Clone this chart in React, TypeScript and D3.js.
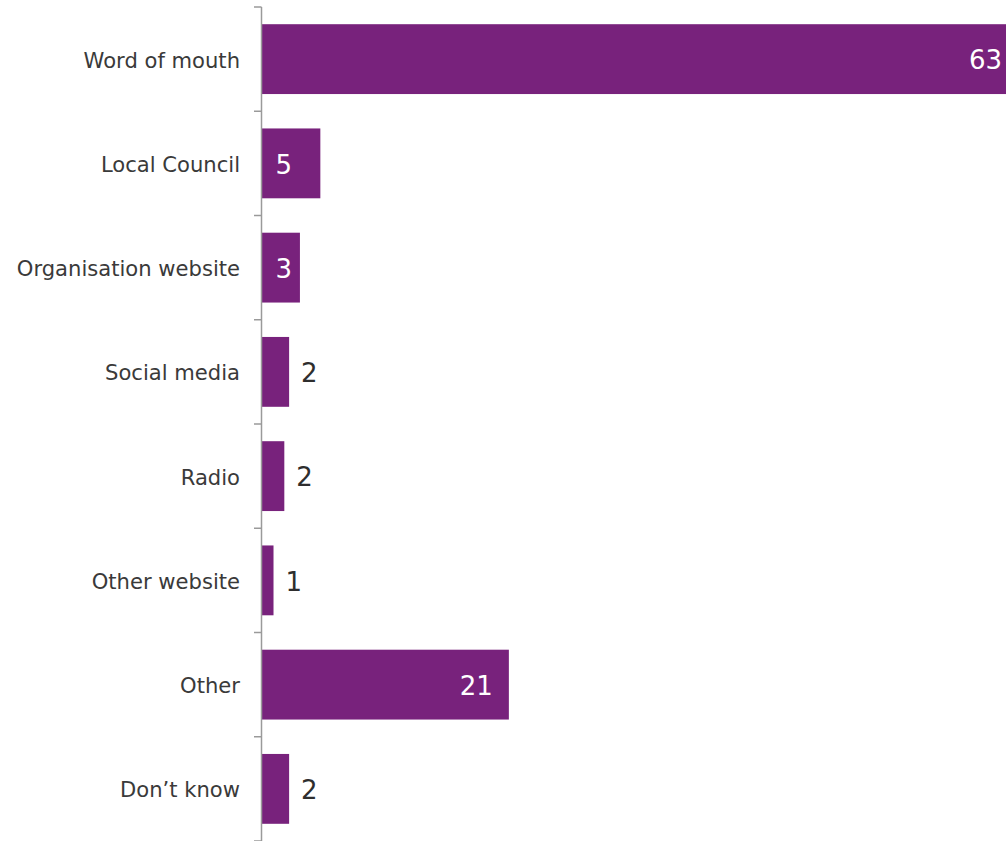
import React from "react";
import * as d3 from "d3";

const categories = [
  "Word of mouth",
  "Local Council",
  "Organisation website",
  "Social media",
  "Radio",
  "Other website",
  "Other",
  "Don’t know",
];
const values = [63, 4.9, 3.2, 2.3, 1.9, 1.0, 20.6, 2.3];
const labels = ["63", "5", "3", "2", "2", "1", "21", "2"];

const W = 1006;
const H = 841;
const AXIS_X = 261.5;
const FONT = "'DejaVu Sans', Verdana, sans-serif";

export default function App() {
  const x = d3.scaleLinear().domain([0, 63]).range([AXIS_X, 1018]);
  const y = d3
    .scaleBand<string>()
    .domain(categories)
    .range([7, 841])
    .paddingInner(0.33)
    .paddingOuter(0.165);
  const step = y.step();
  const ticks = d3.range(categories.length + 1).map((i) => 7 + i * step);

  return (
    <svg
      width={W}
      height={H}
      style={{ position: "absolute", left: 0, top: 0, display: "block", background: "#fff" }}
    >
      {categories.map((c, i) => {
        const v = values[i];
        const y0 = y(c)!;
        const bw = y.bandwidth();
        const xe = x(v);
        const cy = y0 + bw / 2;
        const inside = xe - AXIS_X >= 35;
        let lx = xe + 12;
        let anchor = "start";
        if (inside) {
          const tw = labels[i].length * 0.636 * 26;
          const endX = xe - 16;
          if (endX - tw < AXIS_X + 40) {
            lx = AXIS_X + 14;
            anchor = "start";
          } else {
            lx = endX;
            anchor = "end";
          }
        }
        return (
          <g key={c}>
            <rect x={AXIS_X} y={y0} width={xe - AXIS_X} height={bw} fill="#78227c" />
            <text
              x={240}
              y={cy + 1}
              dy="0.35em"
              textAnchor="end"
              fontFamily={FONT}
              fontSize={21.1}
              fill="#3a3a3a"
            >
              {c}
            </text>
            <text
              x={lx}
              y={cy + 1}
              dy="0.36em"
              textAnchor={anchor}
              fontFamily={FONT}
              fontSize={26}
              fill={inside ? "#ffffff" : "#2e2e2e"}
            >
              {labels[i]}
            </text>
          </g>
        );
      })}
      <line x1={AXIS_X} x2={AXIS_X} y1={7} y2={H} stroke="#9a9a9a" strokeWidth={1.5} />
      {ticks.map((t, i) => (
        <line key={i} x1={254} x2={AXIS_X} y1={t} y2={t} stroke="#9a9a9a" strokeWidth={1.5} />
      ))}
    </svg>
  );
}
